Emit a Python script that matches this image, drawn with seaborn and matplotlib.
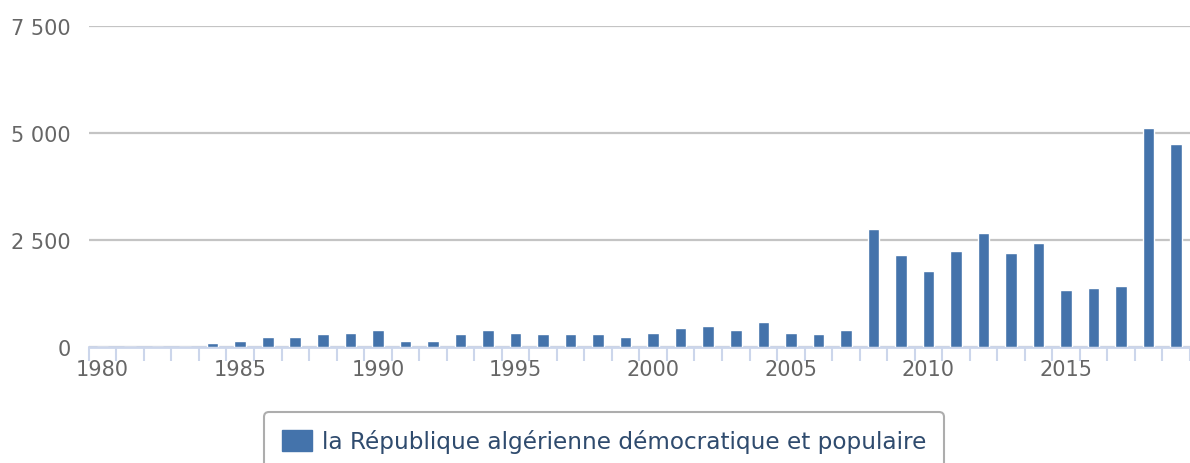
import matplotlib
matplotlib.use("Agg")
import matplotlib.pyplot as plt
import matplotlib.ticker as mticker
from matplotlib.patches import Patch
import seaborn as sns
import pandas as pd

sns.set_theme(style="white")
plt.rcParams["font.family"] = ["DejaVu Sans"]

years = list(range(1980, 2020))
values = [0, 0, 0, 0, 80, 130, 230, 230, 290, 330,
          380, 130, 130, 290, 380, 330, 290, 290, 290, 230,
          330, 430, 480, 380, 580, 330, 290, 380, 2750, 2150,
          1760, 2240, 2650, 2190, 2420, 1330, 1380, 1425, 5110, 4740]
series_name = "la République algérienne démocratique et populaire"
y_ticks = [0, 2500, 5000, 7500]
label_years = [1980, 1985, 1990, 1995, 2000, 2005, 2010, 2015]

df = pd.DataFrame({"year": years, "value": values})

bar_color = "#4473ab"
axis_color = "#ccd6eb"
text_color = "#666666"

fig = plt.figure(figsize=(11.9, 4.64), dpi=100)
ax = fig.add_axes([88.8 / 1190, (464 - 347.7) / 464, 1.0 - 88.8 / 1190, 320.7 / 464])

sns.barplot(data=df, x="year", y="value", color=bar_color, width=0.42,
            edgecolor="white", linewidth=1, saturation=1, ax=ax, zorder=3)

ax.set_xlim(-0.5, 39.15)
ax.set_ylim(0, 7500)

# gridlines
ax.set_yticks(y_ticks)
ax.yaxis.set_major_formatter(mticker.FuncFormatter(lambda v, p: f"{int(v):,}".replace(",", " ")))
ax.grid(axis="y", color="#c4c4c4", linewidth=1.6, zorder=0)
ax.set_axisbelow(True)
ax.tick_params(axis="y", length=0, pad=13, labelsize=15, labelcolor=text_color)

# x axis: labels at every fifth year, ticks on category boundaries
ax.set_xticks([years.index(y) for y in label_years])
ax.set_xticklabels([str(y) for y in label_years])
ax.tick_params(axis="x", which="major", bottom=False, length=0, pad=9,
               labelsize=15, labelcolor=text_color)
ax.set_xticks([i - 0.5 for i in range(len(years) + 1)], minor=True)
ax.tick_params(axis="x", which="minor", bottom=True, direction="out",
               length=10, width=1.5, color=axis_color)

for side in ["top", "right", "left"]:
    ax.spines[side].set_visible(False)
ax.spines["bottom"].set_color(axis_color)
ax.spines["bottom"].set_linewidth(2)
ax.set_xlabel("")
ax.set_ylabel("")

handle = Patch(facecolor=bar_color, edgecolor=bar_color)
leg = fig.legend([handle], [series_name], loc="upper center",
                 bbox_to_anchor=(604 / 1190, 1 - 413 / 464), borderaxespad=0,
                 fontsize=16.7, frameon=True, fancybox=True, edgecolor="#999999",
                 handlelength=1.3, handleheight=1.0, handletextpad=0.45,
                 borderpad=0.75, labelcolor="#2f4b6e")
leg.get_frame().set_linewidth(1.5)

fig.savefig("out.png", dpi=100)
